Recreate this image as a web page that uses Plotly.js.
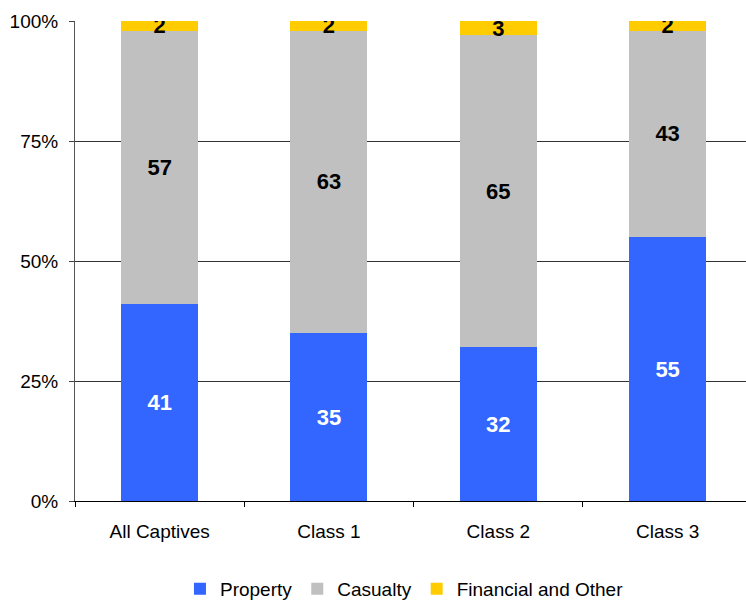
<!DOCTYPE html>
<html>
<head>
<meta charset="utf-8">
<script src="https://cdn.plot.ly/plotly-3.0.1.min.js"></script>
<style>
  html, body { margin: 0; padding: 0; background: #fff; }
  #chart { width: 746px; height: 600px; }
</style>
</head>
<body>
<div id="chart"></div>
<script>
// Share of premiums by line of business, per captive class (percent)
const categories = ['All Captives', 'Class 1', 'Class 2', 'Class 3'];
const property = [41, 35, 32, 55];
const casualty = [57, 63, 65, 43];
const financialOther = [2, 2, 3, 2];
const yTicks = [0, 25, 50, 75, 100];

const labelFont = { family: 'Liberation Sans, Arial, sans-serif', size: 22, weight: 'bold' };

function series(name, values, color, textColor) {
  return {
    type: 'bar',
    name: name,
    x: categories,
    y: values,
    width: 0.455,
    marker: { color: color, line: { width: 0 } },
    text: values.map(String),
    textposition: 'inside',
    insidetextanchor: 'middle',
    textangle: 0,
    constraintext: 'none',
    textfont: Object.assign({ color: textColor }, labelFont),
    hoverinfo: 'skip'
  };
}

const data = [
  series('Property', property, '#3366FF', '#FFFFFF'),
  series('Casualty', casualty, '#C0C0C0', '#000000'),
  series('Financial and Other', financialOther, '#FFCC00', '#000000')
];

const layout = {
  width: 746,
  height: 600,
  margin: { l: 75, r: 0, t: 21, b: 99, pad: 0, autoexpand: false },
  paper_bgcolor: '#FFFFFF',
  plot_bgcolor: '#FFFFFF',
  barmode: 'stack',
  showlegend: true,
  uniformtext: { mode: 'show', minsize: 22 },
  font: { family: 'Liberation Sans, Arial, sans-serif', size: 19, color: '#000000' },
  xaxis: {
    type: 'category',
    range: [-0.5, 3.463],
    tickson: 'boundaries',
    ticks: 'outside',
    ticklen: 5,
    tickcolor: '#000000',
    tickwidth: 1,
    ticklabelstandoff: 13,
    showgrid: false,
    showline: true,
    linecolor: '#000000',
    linewidth: 1,
    zeroline: false,
    fixedrange: true
  },
  yaxis: {
    range: [0, 100],
    tickvals: yTicks,
    ticktext: yTicks.map(v => v + '%'),
    ticks: 'outside',
    ticklen: 5,
    tickcolor: '#404040',
    tickwidth: 1,
    ticklabelstandoff: 7,
    showgrid: true,
    gridcolor: '#333333',
    gridwidth: 1,
    showline: true,
    linecolor: '#555555',
    linewidth: 1,
    zeroline: false,
    fixedrange: true
  },
  legend: {
    orientation: 'h',
    x: 0.491,
    xanchor: 'center',
    y: -0.183,
    yanchor: 'middle',
    font: { size: 19 },
    traceorder: 'normal',
    itemwidth: 30
  }
};

Plotly.newPlot('chart', data, layout, { displayModeBar: false, staticPlot: true });
</script>
</body>
</html>
